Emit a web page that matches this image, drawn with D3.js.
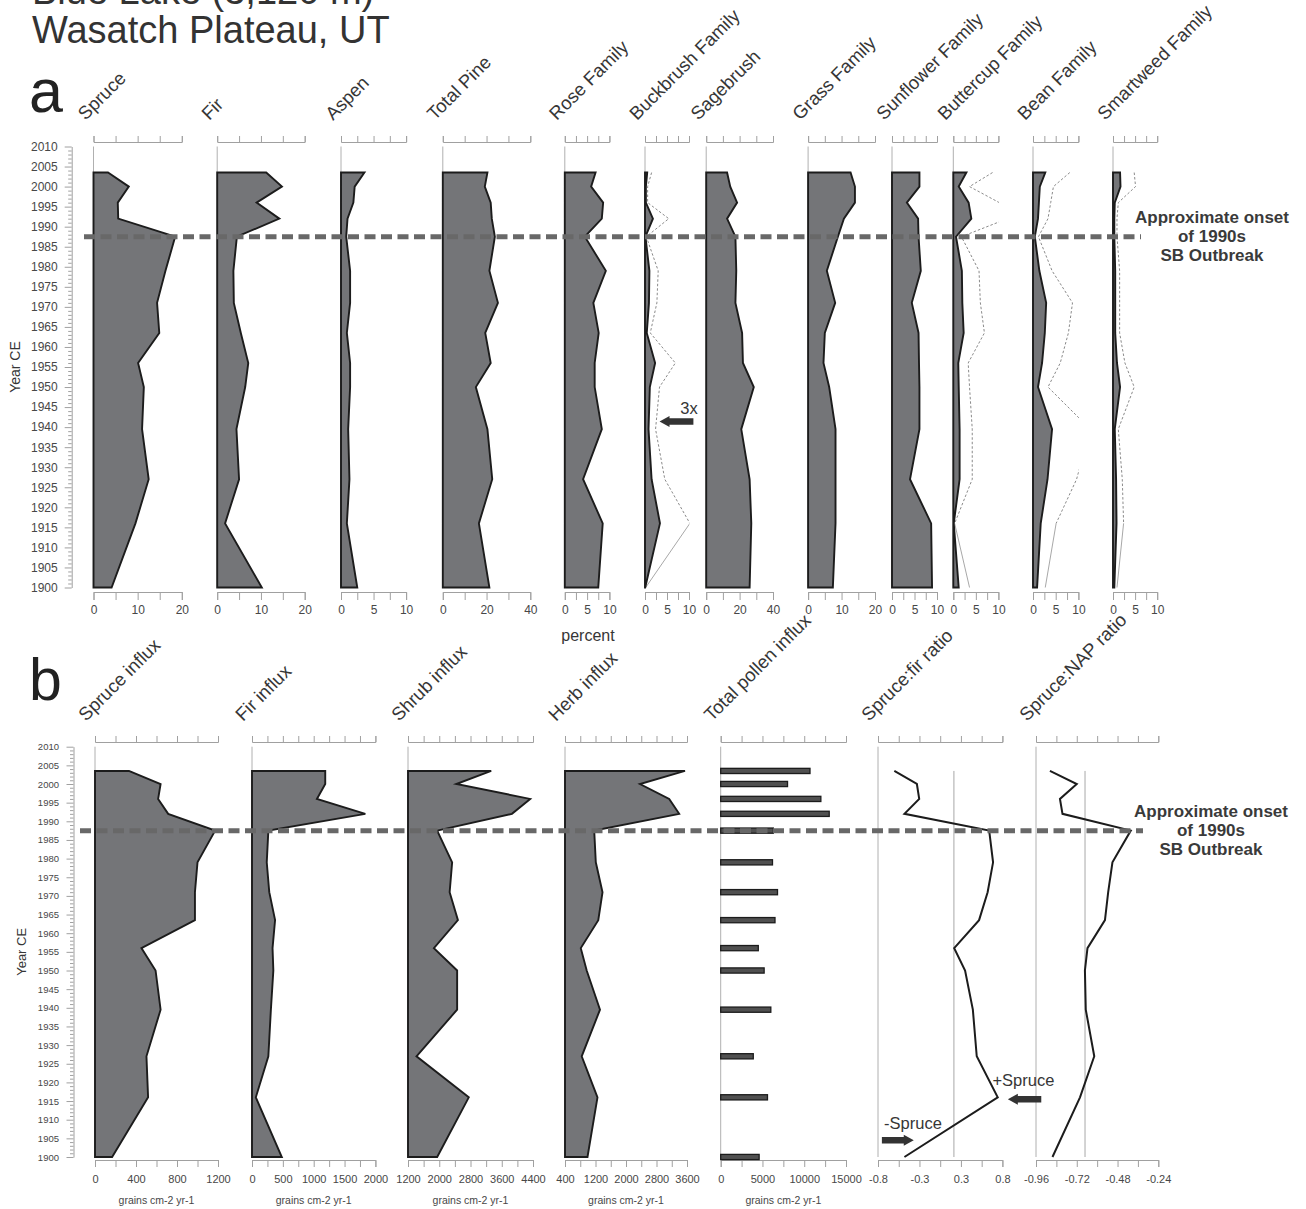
<!DOCTYPE html>
<html>
<head>
<meta charset="utf-8">
<script src="https://cdn.jsdelivr.net/npm/d3@7"></script>
<style>
  body { margin: 0; background: #fff; }
  svg { display: block; }
</style>
</head>
<body>
<svg id="chart" width="1306" height="1209"></svg>
<script>
// ---------------------------------------------------------------
// Sample ages (yr CE) of the dated core intervals
const years = [2003.5, 2000, 1996, 1992, 1987.5, 1979, 1971, 1963.5, 1956, 1950, 1939.5, 1927, 1916, 1900];
const onsetYear = 1987.5;

const titleLines = ["Blue Lake (3,120 m)", "Wasatch Plateau, UT"];
const onsetNote = ["Approximate onset", "of 1990s", "SB Outbreak"];

// ---- panel a: pollen percentages ----
const taxa = ["Spruce", "Fir", "Aspen", "Total Pine", "Rose Family", "Buckbrush Family",
              "Sagebrush", "Grass Family", "Sunflower Family", "Buttercup Family",
              "Bean Family", "Smartweed Family"];
const spruce     = [3.3, 8.0, 5.5, 5.6, 18.5, 16.3, 14.4, 14.9, 10.1, 11.4, 11.0, 12.5, 9.5, 4.1];
const fir        = [11.2, 14.8, 9.0, 14.2, 4.5, 3.7, 3.8, 5.4, 7.1, 6.4, 4.4, 5.0, 1.8, 10.2];
const aspen      = [3.6, 2.1, 1.9, 1.0, 0.8, 1.4, 1.4, 0.9, 1.4, 1.4, 1.1, 1.3, 0.9, 2.5];
const totalPine  = [20.4, 19.2, 21.9, 22.4, 23.8, 21.3, 25.2, 19.4, 21.9, 15.1, 20.4, 22.6, 16.5, 21.3];
const rose       = [6.9, 5.9, 8.6, 8.3, 4.5, 9.2, 6.4, 7.6, 6.7, 6.7, 8.3, 4.1, 8.5, 7.5];
const buckbrush  = [0.5, 0.2, 0.2, 1.8, 0.1, 1.0, 0.9, 0.4, 2.3, 1.1, 0.8, 1.5, 3.4, 0.05];
const sagebrush  = [12.5, 14.4, 18.5, 12.5, 17.5, 18.0, 17.5, 21.5, 22.0, 28.5, 21.0, 26.0, 27.0, 26.0];
const grass      = [12.7, 14.0, 14.0, 10.7, 8.9, 5.6, 8.1, 5.0, 4.6, 6.3, 8.2, 8.2, 8.2, 7.4];
const sunflower  = [6.1, 6.1, 3.3, 5.8, 5.9, 6.4, 4.4, 5.9, 6.0, 6.1, 6.1, 4.0, 8.7, 8.9];
const buttercup  = [2.9, 1.2, 3.4, 4.0, 0.6, 1.9, 2.0, 2.3, 1.1, 1.2, 1.4, 1.4, 0.1, 1.2];
const bean       = [2.7, 1.5, 1.3, 1.1, 0.4, 1.4, 2.9, 2.6, 2.0, 1.1, 4.2, 3.2, 1.7, 0.9];
const smartweed  = [1.6, 1.7, 0.4, 0.3, 0.3, 0.5, 0.5, 0.5, 0.9, 1.6, 0.4, 0.7, 0.8, 0.3];

const percentTicks = [
  [0, 5, 10, 15, 20], [0, 5, 10, 15, 20], [0, 2.5, 5, 7.5, 10], [0, 10, 20, 30, 40],
  [0, 2.5, 5, 7.5, 10], [0, 2.5, 5, 7.5, 10], [0, 10, 20, 30, 40], [0, 5, 10, 15, 20],
  [0, 2.5, 5, 7.5, 10], [0, 2.5, 5, 7.5, 10], [0, 2.5, 5, 7.5, 10], [0, 2.5, 5, 7.5, 10]
];
const percentTickLabels = [
  ["0", "10", "20"], ["0", "10", "20"], ["0", "5", "10"], ["0", "20", "40"],
  ["0", "5", "10"], ["0", "5", "10"], ["0", "20", "40"], ["0", "10", "20"],
  ["0", "5", "10"], ["0", "5", "10"], ["0", "5", "10"], ["0", "5", "10"]
];
// rare taxa also shown as a 3x exaggeration curve
const exaggeratedTaxa = ["Buckbrush Family", "Buttercup Family", "Bean Family", "Smartweed Family"];
const exaggeration = 3;

// ---- panel b: influx and ratios ----
const influxNames = ["Spruce influx", "Fir influx", "Shrub influx", "Herb influx",
                     "Total pollen influx", "Spruce:fir ratio", "Spruce:NAP ratio"];
const spruceInflux   = [330, 640, 616, 714, 1172, 1000, 975, 975, 453, 591, 640, 502, 518, 167];
const firInflux      = [1187, 1187, 1052, 1837, 265, 239, 280, 374, 333, 346, 306, 265, 62, 483];
const shrubInflux    = [3330, 2437, 4328, 3861, 1947, 2330, 2266, 2478, 1863, 2458, 2458, 1417, 2756, 1947];
const herbInflux     = [3548, 2367, 3133, 3395, 1166, 1208, 1384, 1273, 814, 969, 1318, 838, 1252, 990];
const totalInflux    = [10690, 8000, 11990, 12990, 6300, 6200, 6800, 6500, 4500, 5200, 6000, 3900, 5600, 4600];
const spruceFirRatio = [-0.59, -0.30, -0.27, -0.46, 0.63, 0.68, 0.61, 0.50, 0.18, 0.32, 0.42, 0.47, 0.74, -0.46];
const spruceNapRatio = [-0.878, -0.72, -0.819, -0.804, -0.402, -0.51, -0.535, -0.554, -0.657, -0.672, -0.667, -0.617, -0.701, -0.863];

const influxTicks = [
  [0, 200, 400, 600, 800, 1000, 1200],
  [0, 250, 500, 750, 1000, 1250, 1500, 1750, 2000],
  [1200, 1600, 2000, 2400, 2800, 3200, 3600, 4000, 4400],
  [400, 800, 1200, 1600, 2000, 2400, 2800, 3200, 3600],
  [0, 2500, 5000, 7500, 10000, 12500, 15000],
  [-0.8, -0.5333, -0.2667, 0, 0.2667, 0.5333, 0.8],
  [-0.96, -0.84, -0.72, -0.60, -0.48, -0.36, -0.24]
];
const influxTickLabels = [
  ["0", "400", "800", "1200"],
  ["0", "500", "1000", "1500", "2000"],
  ["1200", "2000", "2800", "3600", "4400"],
  ["400", "1200", "2000", "2800", "3600"],
  ["0", "5000", "10000", "15000"],
  ["-0.8", "-0.3", "0.3", "0.8"],
  ["-0.96", "-0.72", "-0.48", "-0.24"]
];
const influxUnit = "grains cm-2 yr-1";
const yearMajor = d3.range(1900, 2011, 5);
const yearMinor = d3.range(1900, 2011, 1).filter(v => v % 5 !== 0);

// ---------------------------------------------------------------
const percentSeries = [spruce, fir, aspen, totalPine, rose, buckbrush, sagebrush,
                       grass, sunflower, buttercup, bean, smartweed];
const influxSeries = [spruceInflux, firInflux, shrubInflux, herbInflux, totalInflux,
                      spruceFirRatio, spruceNapRatio];

const FONT = '"Liberation Sans", Arial, Helvetica, sans-serif';
const AXIS_GREY = "#a0a0a0";
const TEXT = "#363636";
const FILL = "#747578";
const EDGE = "#1c1c1c";

const svg = d3.select("#chart").attr("font-family", FONT);

// column placement (left and right pixel edge of each strip)
const colA = [[93.5, 181.8], [217.2, 304.7], [341, 406.1], [442.8, 530.3], [564.8, 609.4],
              [645, 689], [706.2, 773], [808.1, 875], [892, 937], [953.3, 998.4],
              [1033, 1078.4], [1113, 1157.2]];
const colB = [[95, 218], [252, 375.4], [408, 533], [565, 687], [720.7, 846],
              [878, 1002.4], [1036, 1158.3]];

const geomA = { top: 146.5, bottom: 587.5, axisTop: 142, axisBottom: 592, headerY: 121,
                headerDx: -8, tickLen: 8, pad: 5, labelSize: 12, yAxisX: 71.7, yLabelSize: 12,
                yPad: 7 };
const geomB = { top: 746.7, bottom: 1157, axisTop: 742, axisBottom: 1160, headerY: 722,
                headerDx: -9, tickLen: 7, pad: 8, labelSize: 11, yAxisX: 73.5, yLabelSize: 9.5,
                yPad: 7.5 };
const HEADER_SIZE = 18.5;

const yA = d3.scaleLinear().domain([1900, 2010]).range([geomA.bottom, geomA.top]);
const yB = d3.scaleLinear().domain([1900, 2010]).range([geomB.bottom, geomB.top]);

function styleAxis(g, size) {
  g.attr("font-family", null).attr("font-size", null);
  g.selectAll(".domain, .tick line").attr("stroke", AXIS_GREY).attr("stroke-width", 1);
  g.selectAll("text").attr("fill", "#474747").attr("font-size", size);
}

// ---- titles ----
svg.append("text").attr("x", 32).attr("y", 4).attr("font-size", 38).attr("fill", "#333")
  .text(titleLines[0]);
svg.append("text").attr("x", 32).attr("y", 43).attr("font-size", 38).attr("fill", "#333")
  .text(titleLines[1]);
svg.append("text").attr("x", 29).attr("y", 112).attr("font-size", 61).attr("fill", "#222").text("a");
svg.append("text").attr("x", 29).attr("y", 700).attr("font-size", 59).attr("fill", "#222").text("b");

// ---- year axes ----
function yearAxis(y, geom, title, titleX, titleSize) {
  const gMinor = svg.append("g").attr("transform", `translate(${geom.yAxisX},0)`)
    .call(d3.axisLeft(y).tickValues(yearMinor).tickSize(3.5).tickFormat(""));
  gMinor.select(".domain").remove();
  styleAxis(gMinor, geom.yLabelSize);
  const gMajor = svg.append("g").attr("transform", `translate(${geom.yAxisX},0)`)
    .call(d3.axisLeft(y).tickValues(yearMajor).tickSize(7).tickSizeOuter(0)
      .tickPadding(geom.yPad).tickFormat(d3.format("d")));
  styleAxis(gMajor, geom.yLabelSize);
  const mid = (y(1900) + y(2010)) / 2;
  svg.append("text").attr("transform", `translate(${titleX},${mid}) rotate(-90)`)
    .attr("text-anchor", "middle").attr("dy", "0.35em").attr("font-size", titleSize)
    .attr("fill", TEXT).text(title);
}
yearAxis(yA, geomA, "Year CE", 15, 14);
yearAxis(yB, geomB, "Year CE", 21, 13);

// ---- shared strip frame: zero line, top/bottom axes, slanted header ----
function stripFrame(x, y, geom, header, ticks, labels) {
  const g = svg.append("g");
  const x0 = x.range()[0];
  g.append("line").attr("x1", x0).attr("x2", x0).attr("y1", y(2010)).attr("y2", y(1900))
    .attr("stroke", "#b0b0b0").attr("stroke-width", 1);
  const top = g.append("g").attr("transform", `translate(0,${geom.axisTop})`)
    .call(d3.axisTop(x).tickValues(ticks).tickSize(6).tickSizeOuter(6).tickFormat(""));
  styleAxis(top, geom.labelSize);
  const bottom = g.append("g").attr("transform", `translate(0,${geom.axisBottom})`)
    .call(d3.axisBottom(x).tickValues(ticks).tickSize(geom.tickLen).tickSizeOuter(geom.tickLen)
      .tickPadding(geom.pad).tickFormat((v, i) => (i % 2 === 0 ? labels[i / 2] : "")));
  styleAxis(bottom, geom.labelSize);
  g.append("text")
    .attr("transform", `translate(${x0 + geom.headerDx},${geom.headerY}) rotate(-45)`)
    .attr("font-size", HEADER_SIZE).attr("fill", TEXT).text(header);
  return g;
}

function silhouette(g, x, y, values, base) {
  const pts = years.map((yr, i) => [yr, values[i]]);
  const area = d3.area().y(d => y(d[0])).x0(x(base)).x1(d => x(d[1]));
  g.append("path").attr("d", area(pts)).attr("fill", FILL).attr("stroke", EDGE)
    .attr("stroke-width", 1.9).attr("stroke-linejoin", "miter");
}

// ---- panel a strips ----
const xScalesA = [];
taxa.forEach((name, i) => {
  const ticks = percentTicks[i];
  const x = d3.scaleLinear().domain([0, ticks[ticks.length - 1]]).range(colA[i]);
  xScalesA.push(x);
  const g = stripFrame(x, yA, geomA, name, ticks, percentTickLabels[i]);
  const values = percentSeries[i];

  if (exaggeratedTaxa.includes(name)) {
    const clipId = "clip-a-" + i;
    svg.append("clipPath").attr("id", clipId).append("rect")
      .attr("x", x.range()[0]).attr("y", geomA.top - 5)
      .attr("width", x.range()[1] - x.range()[0] + 0.5).attr("height", geomA.bottom - geomA.top + 10);
    const ex = years.map((yr, k) => [x(values[k] * exaggeration), yA(yr)]);
    const line = d3.line();
    const ge = g.append("g").attr("clip-path", `url(#${clipId})`);
    ge.append("path").attr("d", line(ex.slice(0, -1))).attr("fill", "none")
      .attr("stroke", "#8a8a8a").attr("stroke-width", 1).attr("stroke-dasharray", "2.5,2");
    ge.append("path").attr("d", line(ex.slice(-2))).attr("fill", "none")
      .attr("stroke", "#a8a8a8").attr("stroke-width", 1);
  }
  silhouette(g, x, yA, values, 0);
});

svg.append("text").attr("x", 588).attr("y", 641).attr("text-anchor", "middle")
  .attr("font-size", 16).attr("fill", TEXT).text("percent");

// ---- panel b strips ----
const xScalesB = [];
influxNames.forEach((name, i) => {
  const ticks = influxTicks[i];
  const x = d3.scaleLinear().domain([ticks[0], ticks[ticks.length - 1]]).range(colB[i]);
  xScalesB.push(x);
  const g = stripFrame(x, yB, geomB, name, ticks, influxTickLabels[i]);
  const values = influxSeries[i];

  if (i < 4) {
    silhouette(g, x, yB, values, ticks[0]);
  } else if (i === 4) {
    g.selectAll("rect.bar").data(years).join("rect").attr("class", "bar")
      .attr("x", x(0)).attr("y", yr => yB(yr) - 2.6)
      .attr("width", (yr, k) => x(values[k]) - x(0)).attr("height", 5.2)
      .attr("fill", "#505050").attr("stroke", EDGE).attr("stroke-width", 1.3);
  } else {
    const m = d3.mean(values);
    g.append("line").attr("x1", x(m)).attr("x2", x(m))
      .attr("y1", yB(years[0])).attr("y2", yB(years[years.length - 1]))
      .attr("stroke", "#a8a8a8").attr("stroke-width", 1);
    const line = d3.line().x(d => x(d[1])).y(d => yB(d[0]));
    g.append("path").attr("d", line(years.map((yr, k) => [yr, values[k]])))
      .attr("fill", "none").attr("stroke", EDGE).attr("stroke-width", 2);
  }
  if (i < 5) {
    const c = (x.range()[0] + x.range()[1]) / 2;
    g.append("text").attr("x", c).attr("y", 1204).attr("text-anchor", "middle")
      .attr("font-size", 10.5).attr("fill", "#474747").text(influxUnit);
  }
});

// ---- beetle outbreak onset ----
function onset(y, xStart, xEnd, noteX, baselines) {
  svg.append("line").attr("x1", xStart).attr("x2", xEnd)
    .attr("y1", y(onsetYear)).attr("y2", y(onsetYear))
    .attr("stroke", "#686868").attr("stroke-width", 5).attr("stroke-dasharray", "11,5.5");
  onsetNote.forEach((t, k) => {
    svg.append("text").attr("x", noteX).attr("y", baselines[k]).attr("text-anchor", "middle")
      .attr("font-size", 17).attr("font-weight", "bold").attr("fill", "#3a3a3a").text(t);
  });
}
onset(yA, 84, 1141, 1212, [223, 242, 261]);
onset(yB, 80, 1143, 1211, [817, 836, 855]);

// ---- annotation arrows ----
function arrow(xTip, xTail, yc, shaft, headH, headL) {
  const dir = xTail > xTip ? 1 : -1;
  const xb = xTip + dir * headL;
  const p = [[xTip, yc], [xb, yc - headH / 2], [xb, yc - shaft / 2], [xTail, yc - shaft / 2],
             [xTail, yc + shaft / 2], [xb, yc + shaft / 2], [xb, yc + headH / 2]];
  svg.append("path").attr("d", "M" + p.map(q => q.join(",")).join("L") + "Z").attr("fill", "#333");
}
const xBuck = xScalesA[taxa.indexOf("Buckbrush Family")];
arrow(xBuck(3.3), xBuck(11.0), yA(1941.4), 6.5, 11, 10);
svg.append("text").attr("x", xBuck(10.0)).attr("y", yA(1942.8) - 2).attr("text-anchor", "middle")
  .attr("font-size", 16.5).attr("fill", TEXT).text(exaggeration + "x");

const xSF = xScalesB[influxNames.indexOf("Spruce:fir ratio")];
arrow(xSF(0.87), xSF(1.30), yB(1915.5), 6.5, 11, 10);
svg.append("text").attr("x", xSF(1.07)).attr("y", yB(1919)).attr("text-anchor", "middle")
  .attr("font-size", 16.5).attr("fill", TEXT).text("+Spruce");
arrow(xSF(-0.34), xSF(-0.75), yB(1904.5), 6.5, 11, 10);
svg.append("text").attr("x", xSF(-0.35)).attr("y", yB(1907.4)).attr("text-anchor", "middle")
  .attr("font-size", 16.5).attr("fill", TEXT).text("-Spruce");
</script>
</body>
</html>
